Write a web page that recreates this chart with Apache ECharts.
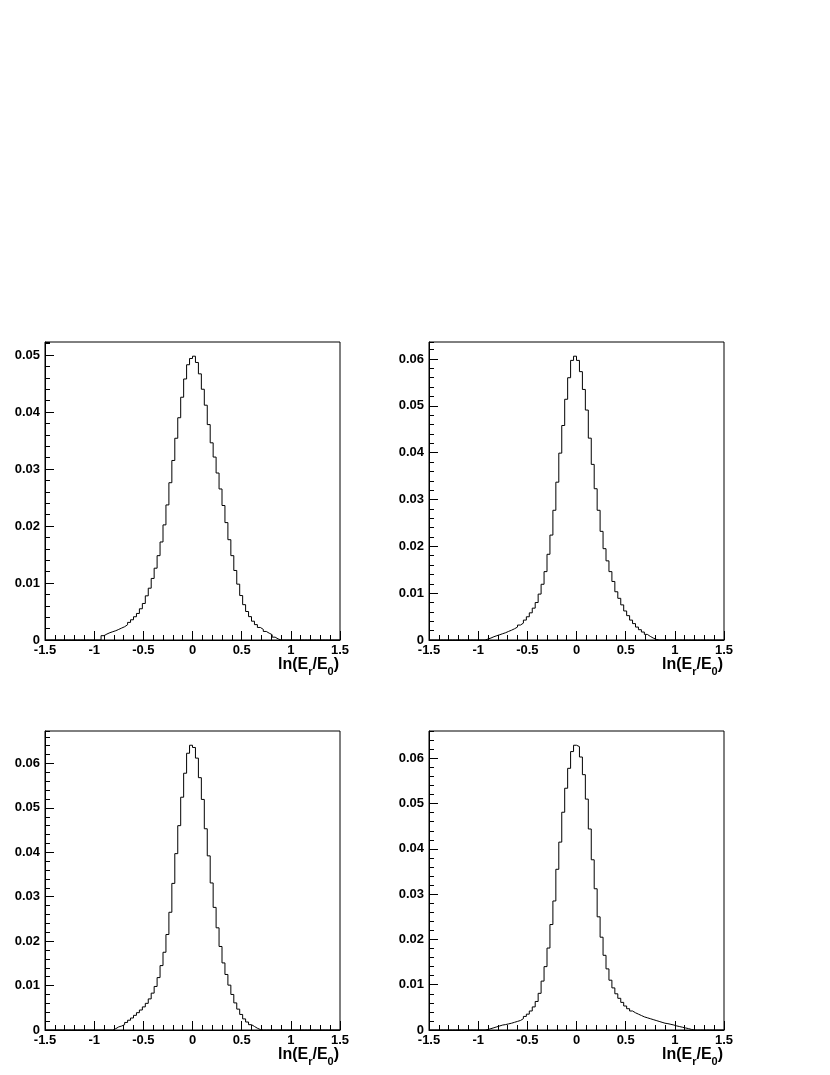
<!DOCTYPE html>
<html>
<head>
<meta charset="utf-8">
<script src="https://cdn.jsdelivr.net/npm/echarts@6/dist/echarts.min.js"></script>
<style>
  html, body { margin: 0; padding: 0; background: #fff; }
  #main { width: 830px; height: 1075px; }
</style>
</head>
<body>
<div id="main"></div>
<script>
// common binning of the four histograms: 100 bins from -1.5 to 1.5
const binLow = -1.5;
const binWidth = 0.03;
const nBins = 100;

// index of first filled bin, then the bin contents
const start1 = 19;
const hist1 = [
  0.00076, 0.00105, 0.00128, 0.00146, 0.00163, 0.00186, 0.0021, 0.00233, 0.00268, 0.00309,
  0.00355, 0.00408, 0.00466, 0.00548, 0.00641, 0.00775, 0.00909, 0.0108, 0.0126, 0.0148,
  0.0172, 0.0202, 0.0237, 0.0276, 0.0315, 0.0354, 0.0390, 0.0426, 0.0458, 0.0483, 0.0494,
  0.0498, 0.0487, 0.0467, 0.0440, 0.0412, 0.0378, 0.0346, 0.0321, 0.0293, 0.0265,
  0.0236, 0.0206, 0.0176, 0.0148, 0.0122, 0.0098, 0.0078, 0.0062, 0.0050, 0.0041,
  0.0033, 0.0027, 0.0022, 0.00186, 0.0015, 0.0012, 0.00093, 0.0005, 0.0002
];

const start2 = 19;
const hist2 = [
  0.0002, 0.00042, 0.0007, 0.00092, 0.00113, 0.00135, 0.00156, 0.00184, 0.0021, 0.0024,
  0.00276, 0.00319, 0.0036, 0.00425, 0.00496, 0.0058, 0.0068, 0.0080, 0.0098, 0.0119,
  0.0146, 0.0183, 0.0224, 0.0277, 0.0337, 0.0399, 0.0458, 0.0514, 0.0560, 0.0597, 0.0606,
  0.0597, 0.0573, 0.0535, 0.0491, 0.0431, 0.0375, 0.0323, 0.0277, 0.0232, 0.0195,
  0.0169, 0.0146, 0.0125, 0.0103, 0.0089, 0.0075, 0.0062, 0.0052, 0.00425, 0.0035,
  0.00276, 0.0022, 0.0017, 0.0012, 0.00078, 0.00042, 0.00014
];

const start3 = 23;
const hist3 = [
  0.0003, 0.0007, 0.0009, 0.0012, 0.0017, 0.0022, 0.0027, 0.0033, 0.0039, 0.0045,
  0.0052, 0.0060, 0.0070, 0.0083, 0.0098, 0.0118, 0.0145, 0.0175, 0.0215, 0.0265,
  0.0330, 0.0397, 0.0460, 0.0524, 0.0578, 0.0623, 0.0641,
  0.0636, 0.0612, 0.0568, 0.0519, 0.0453, 0.0392, 0.0331, 0.0276, 0.0230, 0.0188,
  0.0151, 0.0125, 0.0101, 0.0080, 0.0061, 0.0047, 0.0035, 0.0025, 0.0018, 0.0012,
  0.0008, 0.0004, 0.0001
];

const start4 = 19;
const hist4 = [
  0.0001, 0.0003, 0.0005, 0.0007, 0.0009, 0.0011, 0.0012, 0.00135, 0.0015, 0.0017,
  0.0019, 0.0021, 0.0025, 0.0030, 0.0035, 0.0042, 0.0051, 0.0063, 0.0081, 0.0108,
  0.0140, 0.0181, 0.0233, 0.0285, 0.0355, 0.0415, 0.0481, 0.0534, 0.0578, 0.0615, 0.0629,
  0.0626, 0.0603, 0.0564, 0.0510, 0.0444, 0.0376, 0.0312, 0.0250, 0.0205, 0.0165,
  0.0135, 0.0110, 0.0093, 0.0080, 0.0070, 0.0061, 0.0053, 0.0047, 0.0042, 0.0038,
  0.0035, 0.0032, 0.0029, 0.0027, 0.0025, 0.0023, 0.0021, 0.0019, 0.0017, 0.0015,
  0.0014, 0.00125, 0.0011, 0.0009, 0.00075, 0.0006, 0.00045, 0.0003, 0.00012
];

// pad frames in pixels
const pads = [
  { left: 45, top: 342, height: 298 },
  { left: 429, top: 342, height: 298 },
  { left: 45, top: 731, height: 299 },
  { left: 429, top: 731, height: 299 },
];
const histos = [[start1, hist1], [start2, hist2], [start3, hist3], [start4, hist4]];

const FONT = "'Liberation Sans', Arial, Helvetica, sans-serif";

// step outline through every bin edge (ROOT draws empty bins on the baseline too)
function histPoints(start, vals) {
  const pts = [];
  let v = 0;
  for (let i = 0; i < nBins; i++) {
    v = (i >= start && i < start + vals.length) ? vals[i - start] : 0;
    pts.push([+(binLow + i * binWidth).toFixed(2), v]);
  }
  pts.push([+(binLow + nBins * binWidth).toFixed(2), v]);
  return pts;
}

const grid = [], xAxis = [], yAxis = [], series = [], graphic = [];

pads.forEach((p, k) => {
  const [start, vals] = histos[k];
  const yMax = 1.05 * Math.max(...vals);

  grid.push({
    left: p.left, top: p.top, width: 295, height: p.height,
    show: true, borderColor: "#000", borderWidth: 1, backgroundColor: "transparent",
  });

  xAxis.push({
    gridIndex: k, type: "value", position: "bottom", min: -1.5, max: 1.5, interval: 0.5,
    axisLine: { show: true, onZero: false, lineStyle: { color: "#000", width: 1 } },
    axisTick: { show: true, inside: true, length: 9, lineStyle: { color: "#000" } },
    minorTick: { show: true, splitNumber: 5, length: 5, lineStyle: { color: "#000" } },
    axisLabel: { margin: 4, color: "#000", fontFamily: FONT, fontWeight: "bold", fontSize: 13 },
    splitLine: { show: false },
  });

  // major ticks + labels
  yAxis.push({
    gridIndex: k, type: "value", position: "left", min: 0, max: yMax, interval: 0.01,
    axisLine: { show: true, onZero: false, lineStyle: { color: "#000", width: 1 } },
    axisTick: { show: true, inside: true, length: 9, lineStyle: { color: "#000" } },
    axisLabel: {
      margin: 5, color: "#000", fontFamily: FONT, fontWeight: "bold", fontSize: 13,
      showMaxLabel: false,
      formatter: (v) => (v === 0 ? "0" : v.toFixed(2)),
    },
    splitLine: { show: false },
  });
  // minor ticks only
  yAxis.push({
    gridIndex: k, type: "value", position: "left", offset: 0, min: 0, max: yMax, interval: 0.002,
    axisLine: { show: false, onZero: false },
    axisTick: { show: true, inside: true, length: 5, lineStyle: { color: "#000" } },
    axisLabel: { show: false },
    splitLine: { show: false },
  });

  series.push({
    type: "line", xAxisIndex: k, yAxisIndex: 2 * k,
    step: "end", symbol: "none", silent: true,
    lineStyle: { color: "#000", width: 1 },
    data: histPoints(start, vals),
  });

  // axis title under the right end of the x axis
  graphic.push({
    type: "text",
    x: p.left + 294, y: p.top + p.height + 17,
    style: {
      text: "{a|ln(E}{s|r}{a|/E}{s|0}{a|)}",
      align: "right", verticalAlign: "top",
      rich: {
        a: { fontFamily: FONT, fontWeight: "bold", fontSize: 16, fill: "#000", verticalAlign: "bottom", padding: [0, 0, 4, 0] },
        s: { fontFamily: FONT, fontWeight: "bold", fontSize: 11, fill: "#000", verticalAlign: "bottom" },
      },
    },
  });
});

const chart = echarts.init(document.getElementById("main"));
chart.setOption({
  backgroundColor: "#fff",
  animation: false,
  grid, xAxis, yAxis, series, graphic,
});
</script>
</body>
</html>
